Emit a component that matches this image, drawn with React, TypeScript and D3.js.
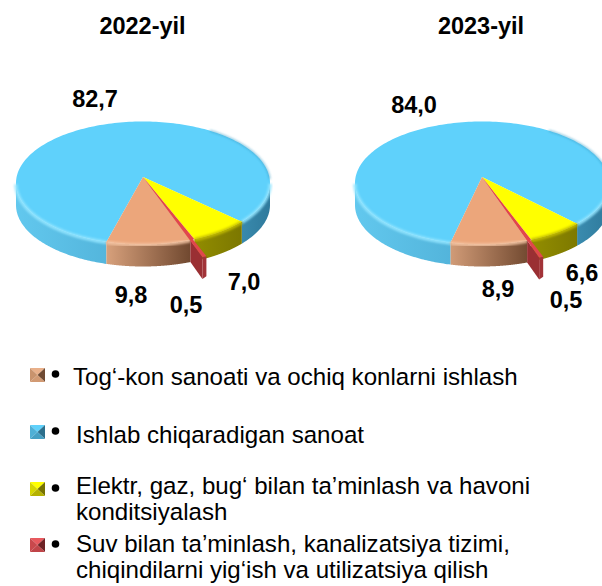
import React from "react";
import * as d3 from "d3";

const categories = [
  "Tog‘-kon sanoati va ochiq konlarni ishlash",
  "Ishlab chiqaradigan sanoat",
  "Elektr, gaz, bug‘ bilan ta’minlash va havoni konditsiyalash",
  "Suv bilan ta’minlash, kanalizatsiya tizimi, chiqindilarni yig‘ish va utilizatsiya qilish",
];
const values2022 = [9.8, 82.7, 7.0, 0.5];
const values2023 = [8.9, 84.0, 6.6, 0.5];
const labels2022 = ["9,8", "82,7", "7,0", "0,5"];
const labels2023 = ["8,9", "84,0", "6,6", "0,5"];
const titles = ["2022-yil", "2023-yil"];
const legendLines = [
  ["Tog‘-kon sanoati va ochiq konlarni ishlash"],
  ["Ishlab chiqaradigan sanoat"],
  ["Elektr, gaz, bug‘ bilan ta’minlash va havoni", "konditsiyalash"],
  ["Suv bilan ta’minlash, kanalizatsiya tizimi,", "chiqindilarni yig‘ish va utilizatsiya qilish"],
];

const topColors = ["#eca67b", "#5fd1fb", "#ffff00", "#e0474c"];
const sideStops = [
  [["0", "#d9a27d"], ["1", "#70482f"]],
  [["0", "#62c8ee"], ["0.5", "#4eaed5"], ["0.82", "#3f93b7"], ["1", "#2f7a9c"]],
  [["0", "#928d00"], ["1", "#6f6b00"]],
  [["0", "#a23338"], ["1", "#8e2c30"]],
];
const legendFaces = [
  ["#e9b08a", "#c9936d", "#6f4a33", "#d29a73"],
  ["#5fd1fb", "#4fb0d6", "#2c6f8c", "#45a0c4"],
  ["#ffff00", "#d6d600", "#777300", "#b5b100"],
  ["#e8595e", "#c9484c", "#6e2225", "#c04448"],
];

const F = "'Liberation Sans', Arial, sans-serif";
const RX = 127, RY = 61.5, DEPTH = 22, TIP = 6;
const EXPLODE: [number, number] = [12, 17];
const rad = (d: number) => (d * Math.PI) / 180;
const line = d3.line();

function Pie({ id, cx, cy, values, start }: { id: string; cx: number; cy: number; values: number[]; start: number }) {
  const arcs = d3.pie<number>().sort(null).startAngle(rad(start)).endAngle(rad(start + 360))(values);
  const ey = cy + TIP;
  const s = -TIP / RY;
  // perspective view: rays leave the tip, which sits above the middle of the ellipse
  const pt = (a: number, ox = 0, oy = 0, dy = 0): [number, number] => {
    const u = Math.sin(a), v = -Math.cos(a);
    const t = -s * v + Math.sqrt(s * s * v * v - s * s + 1);
    return [cx + ox + RX * t * u, ey + oy + RY * (s + t * v) + dy];
  };
  const samples = (a: number, b: number, n = 60) => d3.range(0, n + 1).map((k) => a + ((b - a) * k) / n);
  const visible = (a: number, b: number) => {
    const runs: number[][] = [];
    let cur: number[] | null = null;
    for (const t of samples(a, b, 400)) {
      if (pt(t)[1] >= ey) {
        if (!cur) { cur = []; runs.push(cur); }
        cur.push(t);
      } else cur = null;
    }
    return runs;
  };
  const rimColor = ["#f3c3a2", "#93e6ff", "#c4be00"];
  const red = arcs[3];
  const [ex, eyy] = EXPLODE;
  const P = pt(red.endAngle);
  const R = pt(red.startAngle);
  const Q = pt(red.endAngle, ex, eyy);
  const Q2 = pt(red.startAngle, ex, eyy);
  return (
    <g>
      <defs>
        {sideStops.map((st, i) => (
          <linearGradient key={i} id={`${id}s${i}`} gradientUnits="userSpaceOnUse"
            x1={i === 0 ? cx - 38 : i === 2 ? cx + 50 : cx - RX} x2={i === 0 ? cx + 48 : cx + RX} y1="0" y2="0">
            {st.map(([o, c]) => <stop key={o} offset={o} stopColor={c} />)}
          </linearGradient>
        ))}
        <filter id={`${id}b`} x="-10%" y="-10%" width="120%" height="120%"><feGaussianBlur stdDeviation="1.3" /></filter>
      </defs>
      {[1, 2, 0].map((i) => {
        const a = arcs[i];
        const top = [[cx, cy] as [number, number], ...samples(a.startAngle, a.endAngle, 200).map((t) => pt(t))];
        return (
          <g key={i}>
            {visible(a.startAngle, a.endAngle).map((run, k) => {
              const up = run.map((t) => pt(t));
              const dn = run.slice().reverse().map((t) => pt(t, 0, 0, DEPTH));
              return <path key={k} d={line([...up, ...dn]) + "Z"} fill={`url(#${id}s${i})`} />;
            })}
            <path d={line(top) + "Z"} fill={topColors[i]} />
            {visible(a.startAngle, a.endAngle).map((run, k) => (
              <path key={k} d={line(run.map((t) => pt(t, 0, 0, 0.5))) ?? ""} fill="none"
                stroke={rimColor[i]} strokeOpacity={0.9} strokeWidth={3.5} filter={`url(#${id}b)`} />
            ))}
          </g>
        );
      })}
      {/* soft shaded edge on the far right of the top face */}
      <path d={line(samples(rad(35), rad(92), 60).map((t) => pt(t))) ?? ""} fill="none" stroke="#3d9cc4"
        strokeOpacity={0.55} strokeWidth={2} filter={`url(#${id}b)`} />
      {/* pulled-out 0.5 share: its socket, cut wall, outer wall and top sliver */}
      <path d={line([[cx, cy], R, P]) + "Z"} fill={topColors[3]} />
      <path d={line([P, Q, [Q[0], Q[1] + DEPTH], [P[0], P[1] + DEPTH]]) + "Z"} fill="#9a2f33" />
      <path d={line([Q, Q2, [Q2[0], Q2[1] + DEPTH - 2], [Q[0], Q[1] + DEPTH]]) + "Z"} fill="#a23338" />
      <path d={line([[cx, cy], Q, Q2]) + "Z"} fill={topColors[3]} />
    </g>
  );
}

function LegendIcon({ x, y, faces }: { x: number; y: number; faces: string[] }) {
  const w = 15, h = 14;
  const c = [x + w / 2, y + h / 2];
  const corners = [[x, y], [x + w, y], [x + w, y + h], [x, y + h]];
  const idx = [[0, 1], [3, 0], [1, 2], [2, 3]];
  return (
    <g>
      {idx.map(([a, b], i) => (
        <polygon key={i} fill={faces[i]} points={`${corners[a].join(",")} ${corners[b].join(",")} ${c.join(",")}`} />
      ))}
    </g>
  );
}

const legendLayout = [
  { iconY: 368, textX: 73, textY: 385 },
  { iconY: 425, textX: 76, textY: 443 },
  { iconY: 482, textX: 76, textY: 494 },
  { iconY: 538, textX: 76, textY: 552 },
];

export default function App() {
  const bold = { fontFamily: F, fontWeight: 700, fontSize: 23.5, fill: "#000" } as const;
  return (
    <svg width={602} height={586} style={{ position: "fixed", left: 0, top: 0, background: "#fff" }}>
      <text x={142.5} y={34} textAnchor="middle" {...bold}>{titles[0]}</text>
      <text x={481} y={34} textAnchor="middle" {...bold}>{titles[1]}</text>

      <Pie id="a" cx={143} cy={177} values={values2022} start={160} />
      <Pie id="b" cx={482} cy={177} values={values2023} start={161} />

      <text x={95} y={107} textAnchor="middle" {...bold}>{labels2022[1]}</text>
      <text x={131} y={303} textAnchor="middle" {...bold}>{labels2022[0]}</text>
      <text x={244} y={290} textAnchor="middle" {...bold}>{labels2022[2]}</text>
      <text x={186} y={313} textAnchor="middle" {...bold}>{labels2022[3]}</text>

      <text x={414} y={113} textAnchor="middle" {...bold}>{labels2023[1]}</text>
      <text x={498} y={297} textAnchor="middle" {...bold}>{labels2023[0]}</text>
      <text x={582} y={281} textAnchor="middle" {...bold}>{labels2023[2]}</text>
      <text x={566} y={308} textAnchor="middle" {...bold}>{labels2023[3]}</text>

      {categories.map((cat, i) => {
        const l = legendLayout[i];
        return (
          <g key={cat}>
            <LegendIcon x={30} y={l.iconY} faces={legendFaces[i]} />
            <circle cx={55.5} cy={l.iconY + 6} r={3.8} fill="#000" />
            <text fontFamily={F} fontSize={24.1} fill="#000">
              {legendLines[i].map((t, k) => (
                <tspan key={k} x={l.textX} y={l.textY + k * 26}>{t}</tspan>
              ))}
            </text>
          </g>
        );
      })}
    </svg>
  );
}
